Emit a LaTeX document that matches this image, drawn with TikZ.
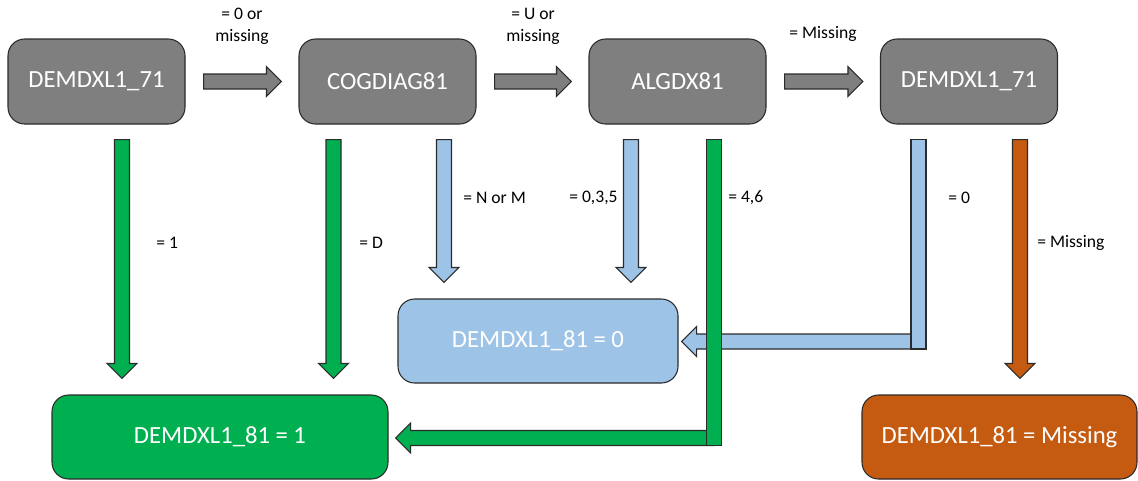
\documentclass[tikz,border=0pt]{standalone}
\usepackage{fontspec}
\setmainfont{Carlito}
\usetikzlibrary{calc}
\definecolor{cgray}{HTML}{7F7F7F}
\definecolor{cgreen}{HTML}{00B050}
\definecolor{cblue}{HTML}{9DC3E6}
\definecolor{corange}{HTML}{C55A11}
\definecolor{cline}{HTML}{2B2B2B}
\tikzset{
  boxnode/.style={draw=cline, line width=0.8pt, rounded corners=12.5pt, text=white,
    font=\fontsize{18.5}{22}\selectfont, inner sep=0pt},
  topbox/.style={boxnode, fill=cgray, minimum width=177*0.75pt, minimum height=85*0.75pt},
  lbl/.style={font=\fontsize{13.2}{16.5}\selectfont, text=black, inner sep=0pt},
  arrowline/.style={draw=cline, line width=0.8pt},
}
% right-pointing block arrow: start, tip, fill
\newcommand\rblock[3]{%
  \filldraw[arrowline, fill=#3] let \p1=(#1), \p2=(#2) in
    (\x1,\y1+5.625pt) -- (\x2-11.25pt,\y1+5.625pt) -- (\x2-11.25pt,\y1+11.25pt) -- (\x2,\y1)
    -- (\x2-11.25pt,\y1-11.25pt) -- (\x2-11.25pt,\y1-5.625pt) -- (\x1,\y1-5.625pt) -- cycle;}
% left-pointing block arrow
\newcommand\lblock[3]{%
  \filldraw[arrowline, fill=#3] let \p1=(#1), \p2=(#2) in
    (\x1,\y1+5.625pt) -- (\x2+11.25pt,\y1+5.625pt) -- (\x2+11.25pt,\y1+11.25pt) -- (\x2,\y1)
    -- (\x2+11.25pt,\y1-11.25pt) -- (\x2+11.25pt,\y1-5.625pt) -- (\x1,\y1-5.625pt) -- cycle;}
% down-pointing block arrow
\newcommand\dblock[3]{%
  \filldraw[arrowline, fill=#3] let \p1=(#1), \p2=(#2) in
    (\x1-5.625pt,\y1) -- (\x1+5.625pt,\y1) -- (\x1+5.625pt,\y2+11.25pt) -- (\x1+11.25pt,\y2+11.25pt)
    -- (\x1,\y2) -- (\x1-11.25pt,\y2+11.25pt) -- (\x1-5.625pt,\y2+11.25pt) -- cycle;}
% vertical bar from start down to end
\newcommand\vbar[3]{%
  \filldraw[arrowline, fill=#3] let \p1=(#1), \p2=(#2) in
    (\x1-5.625pt,\y1) rectangle (\x1+5.625pt,\y2-5.625pt);}
\begin{document}
\begin{tikzpicture}[x=0.75pt, y=-0.75pt]
\useasboundingbox (0,0) rectangle (1138,480);
% top boxes
\node[topbox] (a) at (96.5,81.5) {DEMDXL1\_71};
\node[topbox] (b) at (387.5,81.5) {COGDIAG81};
\node[topbox] (c) at (677.5,81.5) {ALGDX81};
\node[topbox] (d) at (969,81.5) {DEMDXL1\_71};
% bottom boxes
\node[boxnode, fill=cblue, minimum width=280*0.75pt, minimum height=84*0.75pt] (z) at (538,341) {DEMDXL1\_81 = 0};
\node[boxnode, fill=cgreen, minimum width=336*0.75pt, minimum height=84*0.75pt] (g) at (220,437) {DEMDXL1\_81 = 1};
\node[boxnode, fill=corange, minimum width=275*0.75pt, minimum height=84*0.75pt] (m) at (999.5,437) {DEMDXL1\_81 = Missing};
% top horizontal arrows
\coordinate (ab1) at ($(a.east)+(18,0)$); \coordinate (ab2) at ($(b.west)+(-17,0)$);
\coordinate (bc1) at ($(b.east)+(18,0)$); \coordinate (bc2) at ($(c.west)+(-17,0)$);
\coordinate (cd1) at ($(c.east)+(18,0)$); \coordinate (cd2) at ($(d.west)+(-17,0)$);
\rblock{ab1}{ab2}{cgray}
\rblock{bc1}{bc2}{cgray}
\rblock{cd1}{cd2}{cgray}
% vertical arrow starts
\coordinate (s1) at ($(a.south)+(25.5,15)$);
\coordinate (s2) at ($(b.south)+(-54,15)$);
\coordinate (s3) at ($(b.south)+(56.5,15)$);
\coordinate (s4) at ($(c.south)+(-46.5,15)$);
\coordinate (s5) at ($(c.south)+(36.5,15)$);
\coordinate (s6) at ($(d.south)+(-50.5,15)$);
\coordinate (s7) at ($(d.south)+(51,15)$);
% tips
\coordinate (t1) at ($(s1 |- g.north)+(0,-16)$);
\coordinate (t2) at ($(s2 |- g.north)+(0,-16)$);
\coordinate (t3) at ($(s3 |- z.north)+(0,-16)$);
\coordinate (t4) at ($(s4 |- z.north)+(0,-16)$);
\coordinate (t7) at ($(s7 |- m.north)+(0,-16)$);
\dblock{s1}{t1}{cgreen}
\dblock{s2}{t2}{cgreen}
\dblock{s3}{t3}{cblue}
\dblock{s4}{t4}{cblue}
\dblock{s7}{t7}{corange}
% L-shaped blue arrow
\coordinate (e6) at ($(s6 |- z.east)+(0,0.5)$);
\coordinate (t6) at ($(z.east)+(3,0.5)$);
\lblock{e6}{t6}{cblue}
\vbar{s6}{e6}{cblue}
% L-shaped green arrow
\coordinate (e5) at ($(s5 |- g.east)+(0,1)$);
\coordinate (t5) at ($(g.east)+(7,1)$);
\lblock{e5}{t5}{cgreen}
\vbar{s5}{e5}{cgreen}
% labels
\node[lbl, align=center] (l1) at (242,26) {= 0 or\\missing};
\node[lbl, align=center] (l2) at (533,26) {= U or\\missing};
\node[lbl] (l3) at (823,34) {= Missing};
\node[lbl, anchor=west] (l4) at (156,243) {= 1};
\node[lbl, anchor=west] (l5) at (359,243) {= D};
\node[lbl, anchor=west] (l6) at (463,198) {= N or M};
\node[lbl, anchor=west] (l7) at (569,198) {= 0,3,5};
\node[lbl, anchor=west] (l8) at (728,198) {= 4,6};
\node[lbl, anchor=west] (l9) at (948,198) {= 0};
\node[lbl, anchor=west] (l10) at (1037,243) {= Missing};
\end{tikzpicture}
\end{document}
